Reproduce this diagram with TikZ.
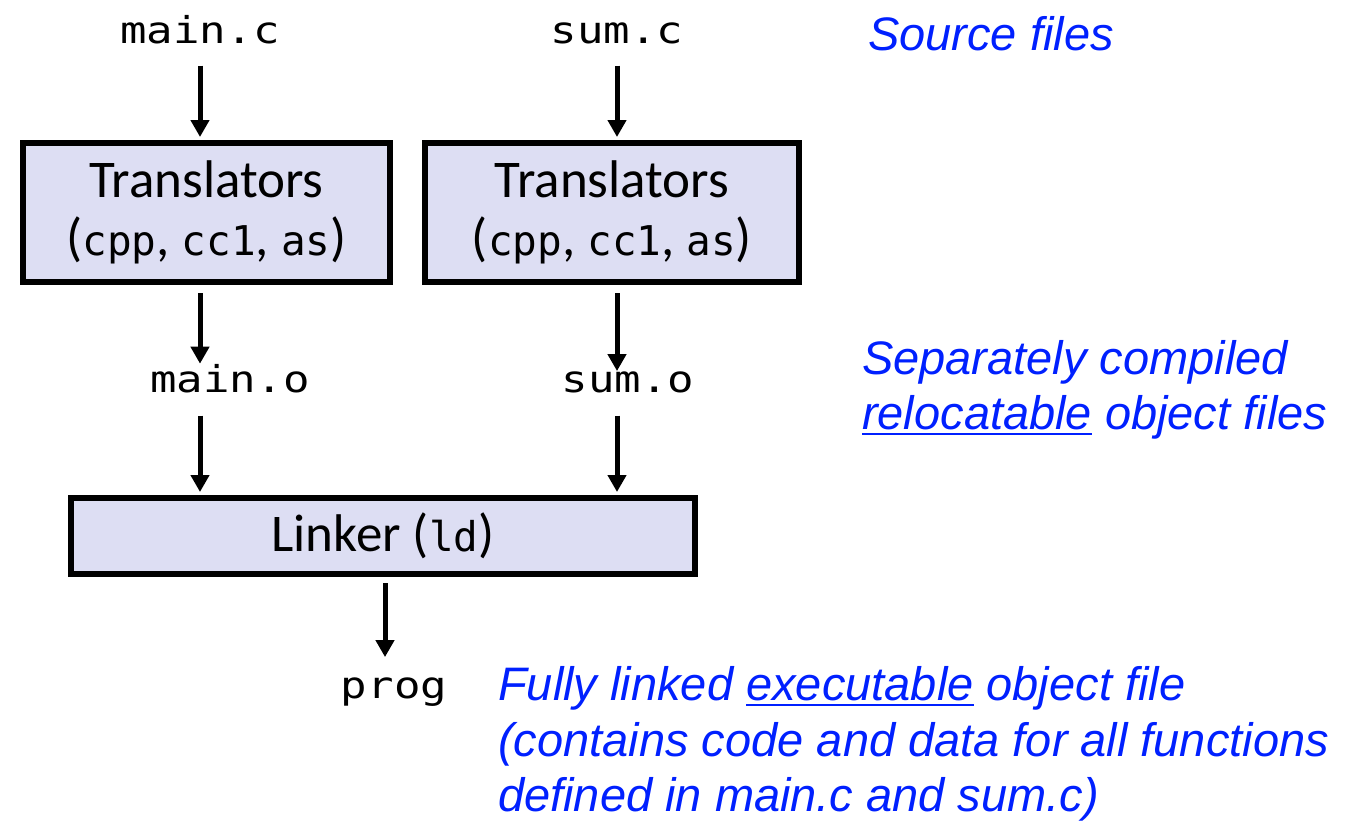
\documentclass[tikz,border=0pt]{standalone}
\usepackage{fontspec}
\usetikzlibrary{arrows.meta}
\setmainfont{Carlito}
\newfontfamily\notefont{Liberation Sans}
\newfontfamily\filefont[FakeStretch=1.19]{DejaVu Sans Mono}
\newfontfamily\boxcode{DejaVu Sans Mono}
\definecolor{boxfill}{RGB}{221,222,243}
\definecolor{noteblue}{RGB}{0,32,255}
\newcommand\noteul[1]{\setbox0\hbox{#1}\rlap{\rule[-6pt]{\wd0}{2.5pt}}\box0\relax}
\newcommand\bc[1]{{\boxcode\fontsize{41}{44}\selectfont #1}}
\tikzset{
  procbox/.style={draw=black, line width=6pt, fill=boxfill, inner sep=0pt,
    align=center, font=\fontsize{53}{58}\selectfont},
  file/.style={font=\filefont\fontsize{37}{40}\selectfont, inner sep=0pt, anchor=base},
  note/.style={font=\notefont\itshape\fontsize{47}{57}\selectfont, text=noteblue,
    inner sep=0pt, anchor=base west},
  arr/.style={-{Triangle[length=17pt,width=18pt]}, line width=5pt}
}
\begin{document}
\begin{tikzpicture}[x=1pt,y=-1pt]
\useasboundingbox (0,0) rectangle (1348,822);
% boxes
\node[procbox, minimum width=367pt, minimum height=139pt] (tr1) at (206.5,212.5)
  {Translators\\(\bc{cpp}, \bc{cc1}, \bc{as})};
\node[procbox, minimum width=374pt, minimum height=139pt] (tr2) at (612,212.5)
  {Translators\\(\bc{cpp}, \bc{cc1}, \bc{as})};
\node[procbox, minimum width=624pt, minimum height=76pt] (linker) at (383,536)
  {Linker (\bc{ld})};
% file labels
\node[file] (mainc) at (200,43) {main.c};
\node[file] (sumc) at (617,43) {sum.c};
\node[file] (maino) at (230,392) {main.o};
\node[file] (sumo) at (628,392) {sum.o};
\node[file] (prog) at (394,698) {prog};
% arrows
\draw[arr, shorten <=22pt, shorten >=3pt] (mainc.south) -- (mainc.south |- tr1.north);
\draw[arr, shorten <=22pt, shorten >=3pt] (sumc.south) -- (sumc.south |- tr2.north);
\draw[arr, shorten <=8pt] (tr1.south -| mainc.south) -- (maino.north -| mainc.south);
\draw[arr, shorten <=8pt] (tr2.south -| sumc.south) -- (sumo.north -| sumc.south);
\draw[arr, shorten <=23pt, shorten >=3pt] (maino.south -| mainc.south) -- (linker.north -| mainc.south);
\draw[arr, shorten <=23pt, shorten >=3pt] (sumo.south -| sumc.south) -- (linker.north -| sumc.south);
\draw[arr, shorten <=6pt, shorten >=20pt] ([xshift=2pt]linker.south) -- ([xshift=2pt]linker.south |- prog.north);
% notes
\node[note] (n1) at (868,50) {Source files};
\node[note] (n2a) at (862,374) {Separately compiled};
\node[note] (n2b) at (862,429) {\noteul{relocatable} object files};
\node[note] (n3a) at (498,700) {Fully linked \noteul{executable} object file};
\node[note] (n3b) at (498,756) {(contains code and data for all functions};
\node[note] (n3c) at (498,811) {defined in main.c and sum.c)};
\end{tikzpicture}
\end{document}
